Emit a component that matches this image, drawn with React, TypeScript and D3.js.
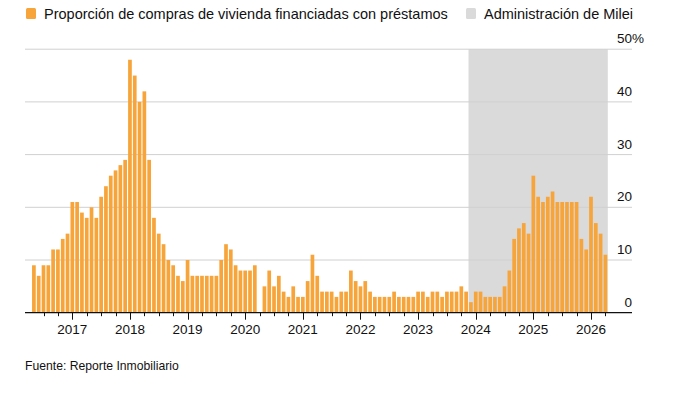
import React from "react";
import * as d3 from "d3";

// Monthly share (%) of home purchases financed with mortgages, May 2016 – Apr 2026
const values2016 = [9, 7, 9, 9, 12, 12, 14, 15]; // May–Dec
const values2017 = [21, 21, 19, 18, 20, 18, 22, 24, 26, 27, 28, 29];
const values2018 = [48, 45, 40, 42, 29, 18, 15, 13, 10, 9, 7, 6];
const values2019 = [10, 7, 7, 7, 7, 7, 7, 10, 13, 12, 9, 8];
const values2020 = [8, 8, 9, 0, 5, 8, 5, 7, 4, 3, 5, 3];
const values2021 = [3, 6, 11, 7, 4, 4, 4, 3, 4, 4, 8, 6];
const values2022 = [5, 6, 4, 3, 3, 3, 3, 4, 3, 3, 3, 3];
const values2023 = [4, 4, 3, 4, 4, 3, 4, 4, 4, 5, 4, 2];
const values2024 = [4, 4, 3, 3, 3, 3, 5, 8, 14, 16, 17, 15];
const values2025 = [26, 22, 21, 22, 23, 21, 21, 21, 21, 21, 14, 12];
const values2026 = [22, 17, 15, 11]; // Jan–Apr

const startMonth = new Date(2016, 4, 1);
const endMonth = new Date(2026, 4, 1);
const mileiStart = new Date(2023, 11, 1);

const yTicks = [0, 10, 20, 30, 40, 50];
const seriesLabel = "Proporción de compras de vivienda financiadas con préstamos";
const shadeLabel = "Administración de Milei";
const sourceLabel = "Fuente: Reporte Inmobiliario";

const allValues = [
  ...values2016, ...values2017, ...values2018, ...values2019, ...values2020,
  ...values2021, ...values2022, ...values2023, ...values2024, ...values2025, ...values2026,
];
const months = d3.timeMonth.range(startMonth, endMonth);
const data = months.map((d, i) => ({ date: d, value: allValues[i] }));

const W = 691;
const H = 408;
const FONT = "'Liberation Sans', Arial, sans-serif";
const ORANGE = "#f7a43a";
const SHADE = "#dadada";
const GRID = "#d0d0d0";

export default function App() {
  const x = d3
    .scaleBand<number>()
    .domain(data.map((_, i) => i))
    .range([31.5, 607.8])
    .paddingInner(0.23)
    .paddingOuter(0.115);
  const y = d3.scaleLinear().domain([0, 50]).range([312.7, 49.2]);
  const step = x.step();
  const center = (i: number) => (x(i) as number) + x.bandwidth() / 2;
  const cellLeft = (i: number) => (x(i) as number) - step * 0.115;

  const mileiIdx = data.findIndex((d) => +d.date === +mileiStart);
  const shadeX0 = cellLeft(mileiIdx);
  const shadeX1 = x.range()[1];

  const gridX0 = 25;
  const gridX1 = 632;

  return (
    <svg
      width={W}
      height={H}
      style={{ position: "absolute", left: 0, top: 0, background: "#fff" }}
      fontFamily={FONT}
    >
      {/* Legend */}
      <rect x={26} y={8} width={10} height={11} rx={1.5} fill={ORANGE} />
      <text x={44} y={19} fontSize={14.5} fill="#111">
        {seriesLabel}
      </text>
      <rect x={466} y={8} width={10} height={11} rx={1.5} fill={SHADE} />
      <text x={484} y={19} fontSize={14.5} fill="#111">
        {shadeLabel}
      </text>

      {/* Shaded Milei period */}
      <rect x={shadeX0} y={y(50)} width={shadeX1 - shadeX0} height={y(0) - y(50)} fill={SHADE} />

      {/* Gridlines */}
      {yTicks
        .filter((t) => t > 0)
        .map((t) => (
          <line key={t} x1={gridX0} x2={gridX1} y1={y(t)} y2={y(t)} stroke={GRID} strokeWidth={1} />
        ))}

      {/* Bars */}
      {data.map((d, i) =>
        d.value > 0 ? (
          <rect
            key={i}
            x={x(i)}
            y={y(d.value)}
            width={x.bandwidth()}
            height={y(0) - y(d.value)}
            fill={ORANGE}
          />
        ) : null
      )}

      {/* Y labels */}
      {yTicks.map((t) => (
        <g key={t}>
          <text x={632} y={y(t) - 6} fontSize={13.5} textAnchor="end" fill="#111">
            {t}
          </text>
          {t === 50 ? (
            <text x={632} y={y(t) - 6} fontSize={13.5} textAnchor="start" fill="#111">
              %
            </text>
          ) : null}
        </g>
      ))}

      {/* X axis */}
      <line x1={gridX0} x2={gridX1} y1={y(0)} y2={y(0)} stroke="#111" strokeWidth={1.2} />
      {data.map((d, i) => {
        const m = d.date.getMonth();
        if (m % 3 !== 0) return null;
        const major = m === 0;
        const cx = Math.round(center(i)) + 0.5;
        return (
          <g key={"t" + i}>
            <line x1={cx} x2={cx} y1={y(0)} y2={y(0) + (major ? 7 : 3.5)} stroke="#111" strokeWidth={1} />
            {major ? (
              <text x={center(i)} y={334} fontSize={13.5} textAnchor="middle" fill="#111">
                {d.date.getFullYear()}
              </text>
            ) : null}
          </g>
        );
      })}

      {/* Source */}
      <text x={25} y={370} fontSize={12.2} fill="#111">
        {sourceLabel}
      </text>
    </svg>
  );
}
